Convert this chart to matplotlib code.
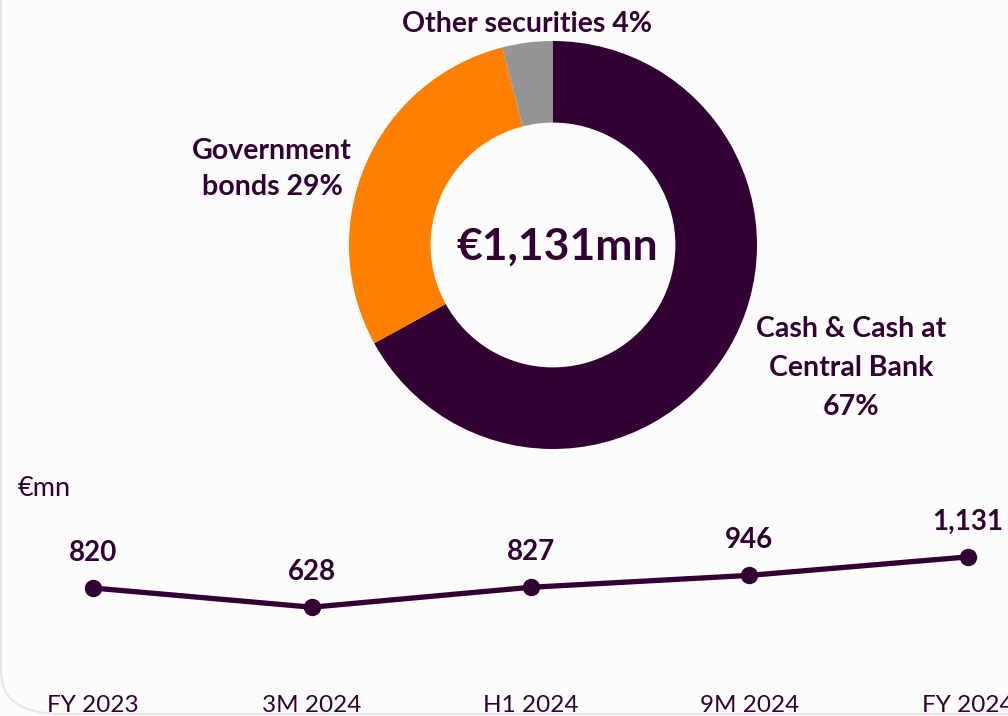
import matplotlib
matplotlib.use("Agg")
import matplotlib.pyplot as plt
import matplotlib.transforms as mtransforms
from matplotlib.patches import FancyBboxPatch

# ---- data ----
pie_labels = ["Cash & Cash at\nCentral Bank\n67%", "Government\nbonds 29%", "Other securities 4%"]
pie_values = [67, 29, 4]
pie_colors = ["#330033", "#FF8000", "#959595"]
center_text = "€1,131mn"

periods = ["FY 2023", "3M 2024", "H1 2024", "9M 2024", "FY 2024"]
liquidity = [820, 628, 827, 946, 1131]
value_labels = ["820", "628", "827", "946", "1,131"]
unit_label = "€mn"

DARK = "#330033"
W, H = 1008, 716
FONT = ["Lato", "DejaVu Sans"]
plt.rcParams["font.family"] = FONT

fig = plt.figure(figsize=(W / 100, H / 100), dpi=100, facecolor="#fcfcfd")


def fx(px):
    return px / W


def fy(py):
    return 1 - py / H


# faint rounded border
border = FancyBboxPatch((fx(1), fy(714)), fx(1200), fy(0) - fy(714) + 0.5,
                        boxstyle="round,pad=0,rounding_size=0.06",
                        transform=fig.transFigure, facecolor="none",
                        edgecolor="#e6e6e8", linewidth=1.5, zorder=0)
fig.patches.append(border)

# ---- donut ----
cx, cy, R = 553, 245, 204
axp = fig.add_axes([fx(cx - R), fy(cy + R), fx(2 * R), (2 * R) / H])
axp.pie(pie_values, colors=pie_colors, startangle=90, counterclock=False,
        radius=1.0, wedgeprops=dict(width=0.4, edgecolor="none"))
axp.set_xlim(-1, 1)
axp.set_ylim(-1, 1)
axp.set_aspect("equal")
axp.axis("off")

fig.text(fx(557), fy(247), center_text, ha="center", va="center",
         fontsize=32, fontweight="bold", color=DARK)
fig.text(fx(851), fy(368), pie_labels[0], ha="center", va="center",
         fontsize=20.5, fontweight="bold", color=DARK, linespacing=1.62)
fig.text(fx(272), fy(169), pie_labels[1], ha="center", va="center",
         fontsize=20.5, fontweight="bold", color=DARK, linespacing=1.48)
fig.text(fx(527), fy(24), pie_labels[2], ha="center", va="center",
         fontsize=20.5, fontweight="bold", color=DARK)

# ---- line chart ----
x0, x1 = 93, 968
y_zero, y_top = 670, 520  # px for value 0 and 1500
axl = fig.add_axes([fx(x0), fy(y_zero), fx(x1 - x0), (y_zero - y_top) / H])
axl.set_facecolor("none")
xs = list(range(len(periods)))
axl.plot(xs, liquidity, color=DARK, linewidth=3.8, marker="o", markersize=11.5,
         clip_on=False, solid_capstyle="round")
axl.set_xlim(0, len(periods) - 1)
axl.set_ylim(0, 1500)
for x, v, lab in zip(xs, liquidity, value_labels):
    axl.annotate(lab, (x, v), xytext=(0, 16), textcoords="offset points",
                 ha="center", va="bottom", fontsize=20, fontweight="bold",
                 color=DARK, annotation_clip=False)
axl.set_xticks([])
axl.set_yticks([])
for s in axl.spines.values():
    s.set_visible(False)

tick_tr = mtransforms.blended_transform_factory(axl.transData, fig.transFigure)
for x, p in zip(xs, periods):
    axl.text(x, fy(705), p, transform=tick_tr, ha="center", va="center",
             fontsize=17.5, color=DARK, clip_on=False)

fig.text(fx(18), fy(488), unit_label, ha="left", va="center",
         fontsize=19.5, color=DARK)

fig.savefig("out.png", dpi=100, facecolor=fig.get_facecolor())
